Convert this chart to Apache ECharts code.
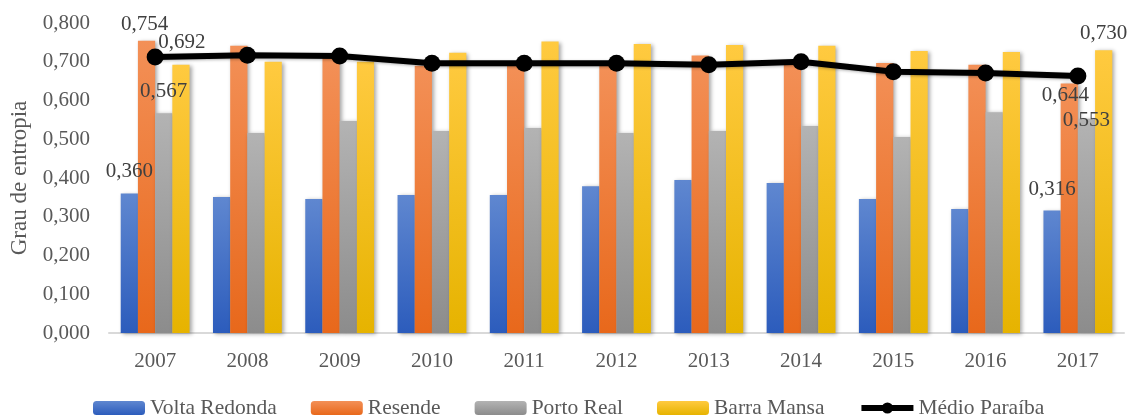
<!DOCTYPE html>
<html>
<head>
<meta charset="utf-8">
<script src="https://cdn.jsdelivr.net/npm/echarts@6/dist/echarts.min.js"></script>
<style>
html,body{margin:0;padding:0;background:#fff;}
#c{width:1134px;height:416px;}
</style>
</head>
<body>
<div id="c"></div>
<script>
const categories = ['2007','2008','2009','2010','2011','2012','2013','2014','2015','2016','2017'];
const voltaRedonda = [0.360,0.351,0.346,0.356,0.356,0.379,0.395,0.387,0.346,0.320,0.316];
const resende      = [0.754,0.741,0.710,0.690,0.695,0.690,0.716,0.700,0.697,0.692,0.644];
const portoReal    = [0.567,0.516,0.547,0.521,0.529,0.516,0.521,0.534,0.506,0.570,0.553];
const barraMansa   = [0.692,0.700,0.700,0.723,0.752,0.746,0.743,0.741,0.728,0.725,0.730];
const medioParaiba = [0.712,0.717,0.715,0.696,0.696,0.696,0.692,0.700,0.674,0.671,0.663];
const yTicks = [0,0.1,0.2,0.3,0.4,0.5,0.6,0.7,0.8];

const FONT = '"Liberation Serif","Times New Roman",serif';
const fmt = v => v.toFixed(3).replace('.', ',');

// label placement styling (index -> offset)
const labelOffsets = {
  'Volta Redonda': {0:[0,-7], 10:[0,-6]},
  'Resende':       {0:[-2,-1], 10:[-4,28]},
  'Porto Real':    {0:[0,-6], 10:[0,17]},
  'Barra Mansa':   {0:[1,-7], 10:[0,-1]}
};

function grad(top, bottom){
  return new echarts.graphic.LinearGradient(0,0,0,1,[{offset:0,color:top},{offset:1,color:bottom}]);
}

function barSeries(name, values, cTop, cBot){
  const offs = labelOffsets[name];
  return {
    name, type:'bar', barGap:'0%', barCategoryGap:'25.4%',
    itemStyle:{color:grad(cTop,cBot), shadowBlur:4, shadowColor:'rgba(0,0,0,0.35)', shadowOffsetX:2, shadowOffsetY:1},
    data: values.map((v,i)=>{
      const d = {value:v};
      if (offs[i]) {
        d.label = {show:true, position:'top', offset:offs[i], formatter:p=>fmt(p.value),
                   fontFamily:FONT, fontSize:21, color:'#404040'};
      }
      return d;
    })
  };
}

const chart = echarts.init(document.getElementById('c'));
chart.setOption({
  animation:false,
  backgroundColor:'#fff',
  grid:{left:106, right:10, top:23, bottom:83, containLabel:false},
  legend:{
    bottom:-8, left:88, itemWidth:52, itemHeight:14, itemGap:34,
    textStyle:{fontFamily:FONT, fontSize:21.5, color:'#595959'},
    data:['Volta Redonda','Resende','Porto Real','Barra Mansa',
          {name:'Médio Paraíba', lineStyle:{width:6, color:'#000'}, itemStyle:{color:'#000'}}]
  },
  xAxis:{
    type:'category', data:categories,
    axisLine:{lineStyle:{color:'#d9d9d9', width:2}},
    axisTick:{show:false},
    axisLabel:{fontFamily:FONT, fontSize:21, color:'#595959', margin:18}
  },
  yAxis:{
    type:'value', min:0, max:0.8, interval:0.1,
    name:'Grau de entropia', nameLocation:'middle', nameGap:78, nameRotate:90,
    nameTextStyle:{fontFamily:FONT, fontSize:23, color:'#595959'},
    axisLine:{show:false}, axisTick:{show:false}, splitLine:{show:false},
    axisLabel:{fontFamily:FONT, fontSize:21, color:'#595959', margin:19,
               formatter:v=>fmt(yTicks.reduce((a,b)=>Math.abs(b-v)<Math.abs(a-v)?b:a))}
  },
  series:[
    barSeries('Volta Redonda', voltaRedonda, '#5f87d0', '#2c5cbc'),
    barSeries('Resende', resende, '#f39057', '#e8681b'),
    barSeries('Porto Real', portoReal, '#b3b3b3', '#8c8c8c'),
    barSeries('Barra Mansa', barraMansa, '#ffca40', '#e6b300'),
    {
      name:'Médio Paraíba', type:'line', data:medioParaiba, z:5,
      symbol:'circle', symbolSize:17,
      lineStyle:{color:'#000', width:6, shadowBlur:3, shadowColor:'rgba(0,0,0,0.3)', shadowOffsetY:1},
      itemStyle:{color:'#000'}
    }
  ]
});
</script>
</body>
</html>
